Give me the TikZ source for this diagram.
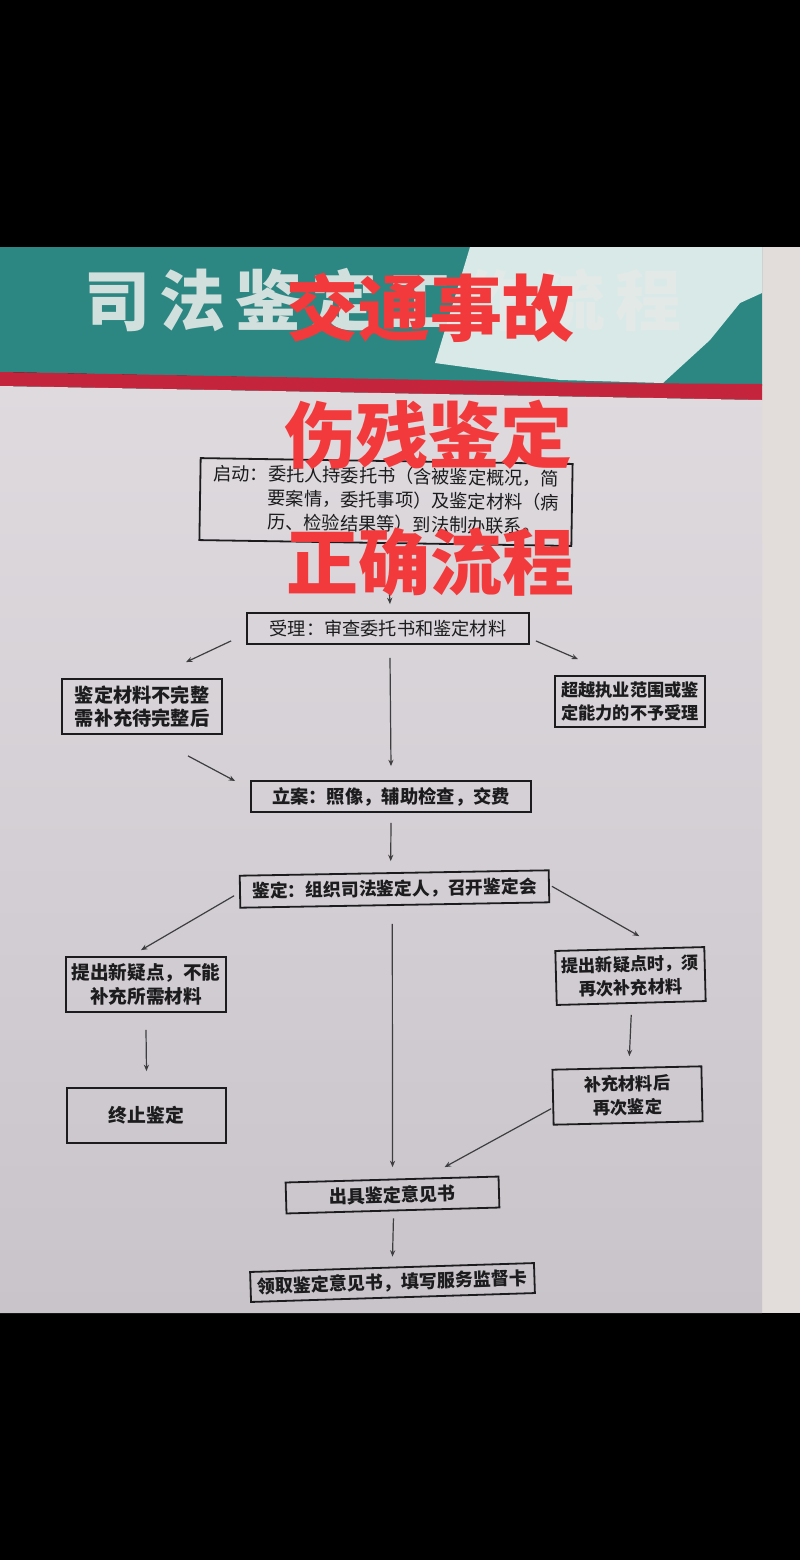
\documentclass[tikz,border=0pt]{standalone}
\usepackage{fontspec}
\newfontfamily\cjk{Noto Sans CJK SC}
\newfontfamily\cjkheavy{Noto Sans CJK SC Black}
\usetikzlibrary{arrows.meta,calc}
\definecolor{teal1}{RGB}{44,134,130}
\definecolor{glare}{RGB}{216,233,231}
\definecolor{stripe}{RGB}{196,36,60}
\definecolor{titlec}{RGB}{228,233,231}
\definecolor{paneltop}{RGB}{222,218,222}
\definecolor{panelbot}{RGB}{201,196,202}
\definecolor{wall}{RGB}{226,220,218}
\definecolor{redtxt}{RGB}{242,58,60}
\definecolor{ink}{RGB}{28,28,30}
\begin{document}
\begin{tikzpicture}[x=0.5pt,y=-0.5pt,
  box/.style={draw=ink, line width=0.9pt, inner sep=0pt, text=ink, align=center},
  rg/.style={font=\cjk\fontsize{#1}{12}\selectfont},
  bd/.style={font=\cjk\bfseries\fontsize{#1}{11.8}\selectfont},
  arr/.style={draw=ink!85, line width=0.6pt, -{Stealth[length=3.2pt,width=2.6pt]}},
  redt/.style={font=\cjkheavy\fontsize{36}{36}\selectfont, text=redtxt, inner sep=0pt}]
\useasboundingbox (0,0) rectangle (800,1560);
% background
\fill[black] (0,0) rectangle (800,1560);
\fill[wall] (762,247) rectangle (800,1313);
% header
\fill[teal1] (0,247) -- (762,247) -- (762,386) -- (600,384) -- (0,372) -- cycle;
\fill[glare] (470,247) -- (762,247) -- (762,293) -- (740,303) -- (710,340) -- (663,383) -- (560,380) -- (435,363) -- cycle;
\node[font=\cjk\bfseries\fontsize{33}{33}\selectfont, text=titlec, opacity=0.9, inner sep=0pt] (title) at (383,300)
  {司\hspace{5pt}法\hspace{5pt}鉴\hspace{5pt}定\hspace{5pt}工\hspace{5pt}作\hspace{5pt}流\hspace{5pt}程};
\fill[stripe] (0,372) -- (600,383) -- (762,384) -- (762,400) -- (600,397) -- (0,386) -- cycle;
% panel
\shade[top color=paneltop, bottom color=panelbot] (0,386) -- (600,397) -- (762,400) -- (762,1313) -- (0,1313) -- cycle;
% boxes
\node[box, rg=9.1, minimum width=186pt, minimum height=41pt, rotate=-0.9] (b1) at (386,502)
  {\begin{tabular}{@{}l@{}l@{}}启动：&委托人持委托书（含被鉴定概况，简\\&要案情，委托事项）及鉴定材料（病\\&历、检验结果等）到法制办联系。\end{tabular}};
\node[box, rg=9.1, minimum width=141pt, minimum height=15.5pt] (b2) at (388,628.5) {受理：审查委托书和鉴定材料};
\node[box, bd=9.6, minimum width=80pt, minimum height=27.5pt] (b3) at (142,706.5) {鉴定材料不完整\\需补充待完整后};
\node[box, bd=8.6, minimum width=75pt, minimum height=25.5pt] (b3r) at (630,701.5) {超越执业范围或鉴\\定能力的不予受理};
\node[box, bd=9.15, minimum width=140pt, minimum height=15.5pt] (b4) at (391,796.5) {立案：照像，辅助检查，交费};
\node[box, bd=8.9, minimum width=154.5pt, minimum height=16pt, rotate=1] (b5) at (394.5,889) {鉴定：组织司法鉴定人，召开鉴定会};
\node[box, bd=9.3, minimum width=80pt, minimum height=27.5pt] (b6) at (146,984.5) {提出新疑点，不能\\补充所需材料};
\node[box, bd=8.6, minimum width=74.5pt, minimum height=27pt, rotate=1.5] (b7) at (630.5,976) {提出新疑点时，须\\再次补充材料};
\node[box, bd=9.4, minimum width=79.5pt, minimum height=27.5pt] (b8) at (146.5,1115.5) {终止鉴定};
\node[box, bd=8.6, minimum width=74.5pt, minimum height=27.5pt, rotate=1.3] (b10) at (627.5,1095.5) {补充材料后\\再次鉴定};
\node[box, bd=9, minimum width=106.5pt, minimum height=15.5pt, rotate=1.6] (b9) at (392.5,1195) {出具鉴定意见书};
\node[box, bd=9, minimum width=142pt, minimum height=15pt, rotate=1.8] (b11) at (392.5,1282.5) {领取鉴定意见书，填写服务监督卡};
% connectors
\draw[arr] ([shift={(4,47)}]b1.south) -- ([shift={(2,-8)}]b2.north);
\draw[arr] ([shift={(-15,-4)}]b2.south west) -- ([shift={(44,-16)}]b3.north);
\draw[arr] ([shift={(6,-4)}]b2.south east) -- ([shift={(-52,-16)}]b3r.north);
\draw[arr] ([shift={(2,13)}]b2.south) -- ([shift={(0,-14)}]b4.north);
\draw[arr] ([shift={(46,21)}]b3.south) -- ([shift={(-15,-15.5)}]b4.west);
\draw[arr] ([shift={(0,10)}]b4.south) -- ([shift={(-3.5,-11)}]b5.north);
\draw[arr] ([shift={(-5,4)}]b5.west) -- ([shift={(-5,-6)}]b6.north);
\draw[arr] ([shift={(2,0)}]b5.east) -- ([shift={(9.5,-12)}]b7.north);
\draw[arr] ([shift={(-2.5,18)}]b5.south) -- ([shift={(0.5,-11.5)}]b9.north);
\draw[arr] ([shift={(0,17)}]b6.south) -- ([shift={(0,-16)}]b8.north);
\draw[arr] ([shift={(0,11)}]b7.south) -- ([shift={(2.5,-11)}]b10.north);
\draw[arr] ([shift={(-1,11.5)}]b10.west) -- ([shift={(52.5,-11.5)}]b9.north);
\draw[arr] ([shift={(0.5,7)}]b9.south) -- ([shift={(0.5,-10)}]b11.north);
% red overlay text
\node[redt] (r1) at (430,308) {交通事故};
\node[redt] (r2) at (428,435) {伤残鉴定};
\node[redt] (r3) at (430,562) {正确流程};
\end{tikzpicture}
\end{document}
